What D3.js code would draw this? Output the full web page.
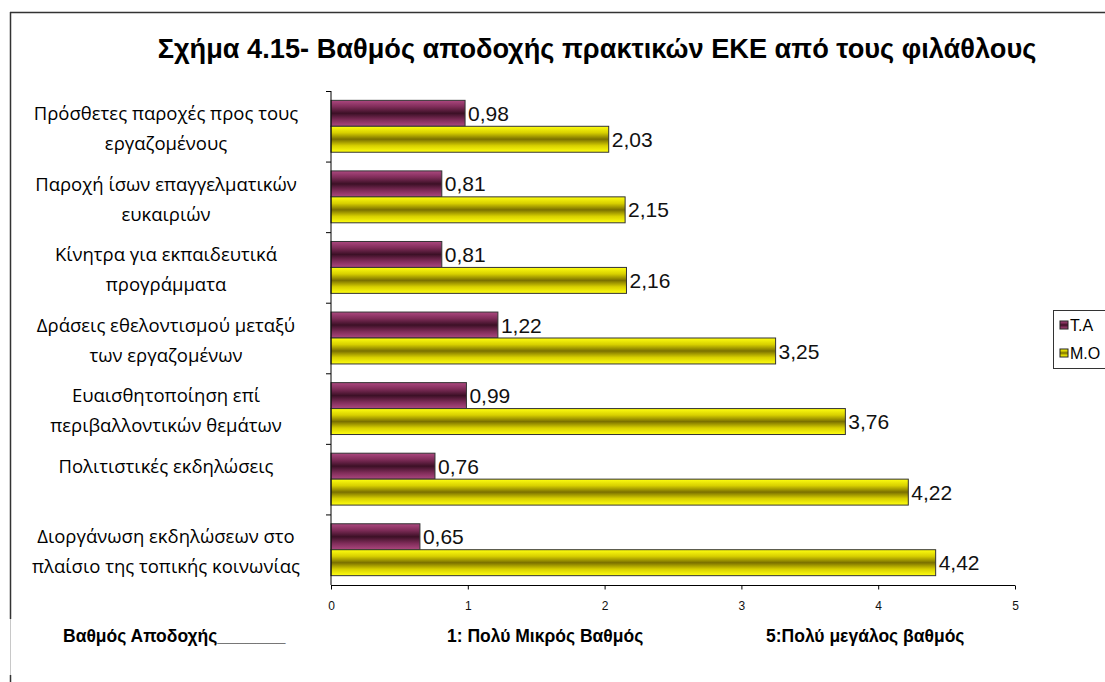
<!DOCTYPE html>
<html>
<head>
<meta charset="utf-8">
<script src="https://cdn.jsdelivr.net/npm/d3@7"></script>
<style>
  html, body { margin: 0; padding: 0; background: #fff; }
  svg { display: block; }
</style>
</head>
<body>
<svg id="chart" width="1105" height="682"></svg>
<script>
// Practices (top to bottom), each label split into its wrapped lines
const categories = [
  ["Πρόσθετες παροχές προς τους", "εργαζομένους"],
  ["Παροχή ίσων επαγγελματικών", "ευκαιριών"],
  ["Κίνητρα για εκπαιδευτικά", "προγράμματα"],
  ["Δράσεις εθελοντισμού μεταξύ", "των εργαζομένων"],
  ["Ευαισθητοποίηση επί", "περιβαλλοντικών θεμάτων"],
  ["Πολιτιστικές εκδηλώσεις"],
  ["Διοργάνωση εκδηλώσεων στο", "πλαίσιο της τοπικής κοινωνίας"]
];
const seriesNames = ["Τ.Α", "Μ.Ο"];
const stdValues  = [0.98, 0.81, 0.81, 1.22, 0.99, 0.76, 0.65];
const meanValues = [2.03, 2.15, 2.16, 3.25, 3.76, 4.22, 4.42];
const xTicks = [0, 1, 2, 3, 4, 5];
const titleText = "Σχήμα 4.15- Βαθμός αποδοχής πρακτικών ΕΚΕ από τους φιλάθλους";
const footTexts = ["Βαθμός Αποδοχής_______", "1: Πολύ Μικρός Βαθμός", "5:Πολύ μεγάλος βαθμός"];

const svg = d3.select("#chart");
const catIds = categories.map((c, i) => i);
const seriesData = [stdValues, meanValues];

const x = d3.scaleLinear().domain([0, 5]).range([331, 1015]);
const y = d3.scaleBand().domain(catIds).range([91, 585]).paddingInner(0).paddingOuter(0);
const ySub = d3.scaleBand().domain([0, 1]).range([0, y.bandwidth()]).paddingInner(0).paddingOuter(0.36);

// bevelled-look gradients for the two series
const defs = svg.append("defs");
const gradStops = [
  ["gradTA", ["#ad4880", "#7e2c58", "#3c1026", "#7e2c58", "#ad4880"]],
  ["gradMO", ["#ffff10", "#d8d000", "#7a7000", "#d8d000", "#ffff10"]]
];
gradStops.forEach(([id, cols]) => {
  const g = defs.append("linearGradient").attr("id", id)
    .attr("x1", 0).attr("y1", 0).attr("x2", 0).attr("y2", 1);
  cols.forEach((c, i) => g.append("stop")
    .attr("offset", (i / (cols.length - 1) * 100) + "%").attr("stop-color", c));
});
const fills = ["url(#gradTA)", "url(#gradMO)"];

// outer frame (top and left edges)
svg.append("line").attr("x1", 10).attr("x2", 1105).attr("y1", 12.5).attr("y2", 12.5)
  .attr("stroke", "#333").attr("stroke-width", 1.5);
svg.append("line").attr("x1", 10.5).attr("x2", 10.5).attr("y1", 12).attr("y2", 619)
  .attr("stroke", "#333").attr("stroke-width", 1.5);
svg.append("line").attr("x1", 10.5).attr("x2", 10.5).attr("y1", 619).attr("y2", 675)
  .attr("stroke", "#c8c8c8").attr("stroke-width", 1);
svg.append("line").attr("x1", 10.5).attr("x2", 10.5).attr("y1", 675).attr("y2", 682)
  .attr("stroke", "#333").attr("stroke-width", 1.5);

// title
svg.append("text").attr("x", 597).attr("y", 58)
  .attr("text-anchor", "middle")
  .style("font-family", "'Liberation Sans', Arial, sans-serif")
  .style("font-weight", "bold").style("font-size", "27.2px")
  .text(titleText);

// bars
const groups = svg.append("g").selectAll("g").data(catIds).join("g")
  .attr("transform", d => `translate(0,${y(d)})`);
groups.selectAll("rect").data(i => seriesData.map((s, k) => ({ k, v: s[i] }))).join("rect")
  .attr("x", x(0))
  .attr("y", d => ySub(d.k))
  .attr("width", d => x(d.v) - x(0))
  .attr("height", ySub.bandwidth())
  .attr("fill", d => fills[d.k])
  .attr("stroke", "#333").attr("stroke-width", 1);

// value labels
groups.selectAll("text").data(i => seriesData.map((s, k) => ({ k, v: s[i] }))).join("text")
  .attr("x", d => x(d.v) + 3)
  .attr("y", d => ySub(d.k) + ySub.bandwidth() / 2)
  .attr("dy", "0.36em")
  .style("font-family", "'Liberation Sans', Arial, sans-serif")
  .style("font-size", "21px").attr("fill", "#111")
  .text(d => d3.format(".2f")(d.v).replace(".", ","));

// category axis (tick marks at the band edges)
const yAxisG = svg.append("g");
yAxisG.append("line").attr("x1", x(0)).attr("x2", x(0)).attr("y1", y.range()[0]).attr("y2", y.range()[1])
  .attr("stroke", "#000");
yAxisG.selectAll("line.tk").data(catIds).join("line").attr("class", "tk")
  .attr("x1", x(0) - 5).attr("x2", x(0)).attr("y1", d => y(d) + 0.5).attr("y2", d => y(d) + 0.5)
  .attr("stroke", "#000");

// category labels
const labG = svg.append("g")
  .style("font-family", "'Open Sans', sans-serif").style("font-size", "18.5px").attr("fill", "#000");
catIds.forEach(i => {
  categories[i].forEach((line, j) => {
    labG.append("text").attr("x", 166).attr("y", y(i) + 29 + j * 30)
      .attr("text-anchor", "middle").text(line);
  });
});

// value axis
const xAxis = d3.axisBottom(x).tickValues(xTicks).tickSize(4).tickPadding(12).tickFormat(d3.format("d"));
const xg = svg.append("g").attr("transform", `translate(0,${y.range()[1] + 0.5})`).call(xAxis);
xg.select(".domain").attr("d", `M${x(0)},0H${x(5)}`).attr("stroke", "#000");
xg.selectAll("text").style("font-family", "'Liberation Sans Narrow', 'Liberation Sans', Arial, sans-serif")
  .style("font-size", "12px").attr("fill", "#111");

// footer notes
const footX = [63, 447, 766];
svg.append("g").selectAll("text").data(footTexts).join("text")
  .attr("x", (d, i) => footX[i]).attr("y", 642)
  .style("font-family", "'Liberation Sans', Arial, sans-serif")
  .style("font-weight", "bold").style("font-size", "17.5px")
  .text(d => d);

// legend
const lg = svg.append("g").attr("transform", "translate(1053,310)");
lg.append("rect").attr("x", 0.5).attr("y", 0.5).attr("width", 90).attr("height", 58)
  .attr("fill", "#fff").attr("stroke", "#333");
seriesNames.forEach((n, k) => {
  lg.append("rect").attr("x", 7).attr("y", 11 + k * 28).attr("width", 8).attr("height", 8)
    .attr("fill", fills[k]).attr("stroke", "#222");
  lg.append("text").attr("x", 17).attr("y", 15 + k * 28).attr("dy", "0.36em")
    .style("font-family", "'Liberation Sans', Arial, sans-serif").style("font-size", "16px")
    .text(n);
});
</script>
</body>
</html>
